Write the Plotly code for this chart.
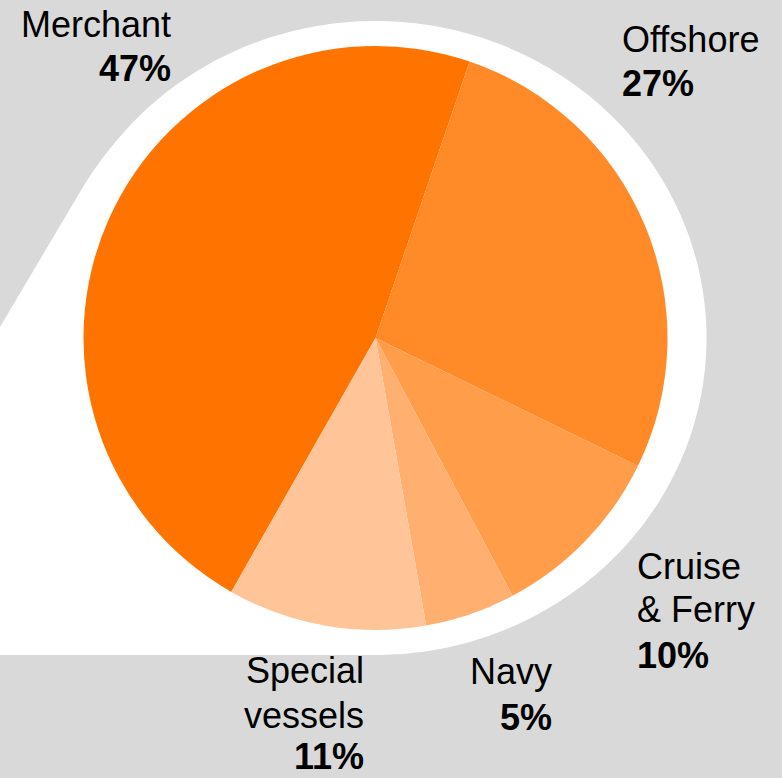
import numpy as np
import plotly.graph_objects as go

# Segment shares (%)
segments = ["Merchant", "Offshore", "Cruise & Ferry", "Navy", "Special vessels"]
shares = [47, 27, 10, 5, 11]
colors = ["#FF7400", "#FF8A27", "#FF9D4B", "#FFB071", "#FFC598"]

W, H = 782, 778


def px(x):
    return x / W


def py(y):
    return 1 - y / H


# Pie geometry (pixels)
cx, cy, r = 375.5, 338.0, 292.0

fig = go.Figure()
fig.add_trace(go.Pie(
    labels=segments,
    values=shares,
    sort=False,
    direction="clockwise",
    rotation=-150.4,
    marker=dict(colors=colors, line=dict(width=0)),
    textinfo="none",
    hoverinfo="label+percent",
    showlegend=False,
    domain=dict(x=[px(cx - r), px(cx + r)], y=[py(cy + r), py(cy - r)]),
))

# White callout backdrop: ellipse with a tail running off to the lower left
ea, eb = 331.0, 317.0
t = np.radians(np.linspace(-137.3, 90.0, 240))
ex = cx + ea * np.cos(t)
ey = cy + eb * np.sin(t)
path = f"M {px(-5)},{py(655)} L {px(-5)},{py(335.5)} L {px(83)},{py(187)} "
path += f"Q {px(101.7)},{py(155.4)} {px(ex[0])},{py(ey[0])} "
path += " ".join(f"L {px(x)},{py(y)}" for x, y in zip(ex[1:], ey[1:]))
path += f" L {px(-5)},{py(655)} Z"
fig.add_shape(type="path", path=path, xref="paper", yref="paper",
              fillcolor="white", line=dict(width=0), layer="below")

# Outside labels: name lines followed by the bold share
FS = 36
label_pos = {
    # name: (x, anchor, name baselines, share baseline)
    "Merchant": (172, "right", [37], 81),
    "Offshore": (621, "left", [52], 96),
    "Cruise & Ferry": (636, "left", [579, 622], 668),
    "Navy": (553, "right", [684], 730),
    "Special vessels": (365, "right", [683, 728], 769),
}
name_lines = {
    "Merchant": ["Merchant"],
    "Offshore": ["Offshore"],
    "Cruise & Ferry": ["Cruise", "& Ferry"],
    "Navy": ["Navy"],
    "Special vessels": ["Special", "vessels"],
}

font = "Liberation Sans, Arial, sans-serif"
for name, val in zip(segments, shares):
    x, anchor, bases, pbase = label_pos[name]
    lines = [(ln, b, False) for ln, b in zip(name_lines[name], bases)]
    lines.append((f"{val}%", pbase, True))
    for txt, base, bold in lines:
        fig.add_annotation(
            x=px(x), y=py(base - 0.35 * FS), xref="paper", yref="paper",
            text=f"<b>{txt}</b>" if bold else txt,
            showarrow=False, xanchor=anchor, yanchor="middle",
            font=dict(family=font, size=FS, color="black"),
            borderpad=0,
        )

fig.update_layout(
    width=W, height=H,
    margin=dict(l=0, r=0, t=0, b=0),
    paper_bgcolor="#D9D9D9",
    plot_bgcolor="#D9D9D9",
    xaxis=dict(visible=False),
    yaxis=dict(visible=False),
)

fig.write_html("out.html")
